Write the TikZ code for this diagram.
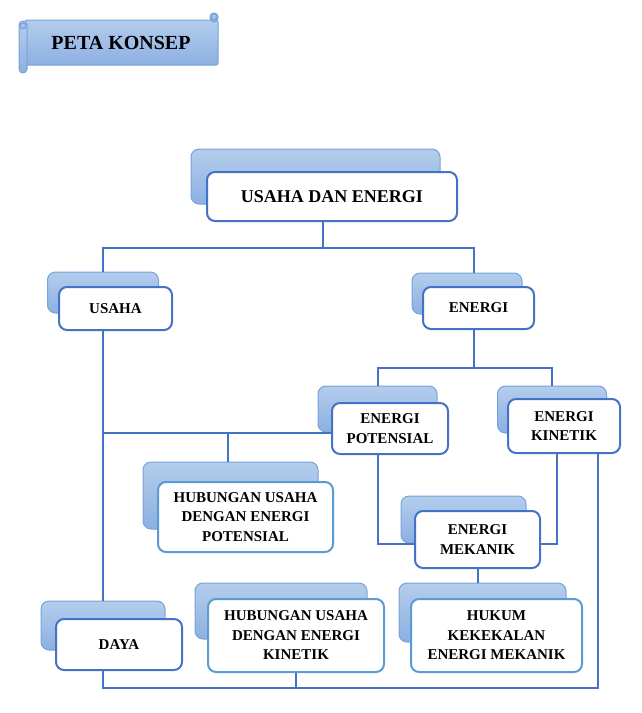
\documentclass[tikz,border=0pt]{standalone}
\usepackage{fontspec}
\setmainfont{Liberation Serif}
\usepackage{tikz}
\usetikzlibrary{positioning}
\definecolor{lineblue}{RGB}{68,114,196}
\definecolor{softblue}{RGB}{91,155,213}
\definecolor{backtop}{RGB}{180,205,236}
\definecolor{backbot}{RGB}{140,176,226}
\definecolor{backedge}{RGB}{118,163,218}
\begin{document}
\begin{tikzpicture}[x=1pt,y=-1pt,
    link/.style={draw=lineblue,line width=2pt},
    backbox/.style={rounded corners=8pt,draw=backedge,line width=1pt,top color=backtop,bottom color=backbot},
    frontbox/.style={rounded corners=8pt,draw=lineblue,line width=2pt,fill=white,align=center,
      font=\bfseries\fontsize{15}{19.5}\selectfont},
    softbox/.style={frontbox,draw=softblue},
    banner/.style={draw=backedge,line width=1pt,top color=backtop,bottom color=backbot}]
    \useasboundingbox (0,0) rectangle (642,713);
    % title banner
    \draw[banner,rounded corners=2pt] (25,20) rectangle (218,65);
    \draw[banner,rounded corners=4pt] (19,21) rectangle (27,73);
    \draw[banner] (23,26) circle (3);
    \draw[banner,rounded corners=4pt] (210,13) rectangle (218,22);
    \draw[banner] (214,17) circle (3);
    \node[font=\bfseries\fontsize{20}{24}\selectfont] (title) at (121,43) {PETA KONSEP};
    % boxes
    \node[backbox,minimum width=249pt,minimum height=55pt] (ueB) at (315.5,176.5) {};
    \node[frontbox,minimum width=250pt,minimum height=49pt,font=\bfseries\fontsize{18}{22}\selectfont] (ue) at (332,196.5) {USAHA DAN ENERGI};
    \node[backbox,minimum width=111pt,minimum height=41pt] (usB) at (103,292.5) {};
    \node[frontbox,minimum width=113pt,minimum height=43pt] (us) at (115.5,308.5) {USAHA};
    \node[backbox,minimum width=110pt,minimum height=41pt] (enB) at (467,293.5) {};
    \node[frontbox,minimum width=111pt,minimum height=42pt] (en) at (478.5,308) {ENERGI};
    \node[backbox,minimum width=119pt,minimum height=46pt] (epB) at (377.5,409) {};
    \node[frontbox,minimum width=116pt,minimum height=51pt] (ep) at (390,428.5) {ENERGI\\POTENSIAL};
    \node[backbox,minimum width=109pt,minimum height=47pt] (ekB) at (552,409.5) {};
    \node[frontbox,minimum width=112pt,minimum height=54pt] (ek) at (564,426) {ENERGI\\KINETIK};
    \node[backbox,minimum width=175pt,minimum height=67pt] (hpB) at (230.5,495.5) {};
    \node[softbox,minimum width=175pt,minimum height=70pt] (hp) at (245.5,517) {HUBUNGAN USAHA\\DENGAN ENERGI\\POTENSIAL};
    \node[backbox,minimum width=125pt,minimum height=47pt] (emB) at (463.5,519.5) {};
    \node[frontbox,minimum width=125pt,minimum height=57pt] (em) at (477.5,539.5) {ENERGI\\MEKANIK};
    \node[backbox,minimum width=124pt,minimum height=49pt] (dyB) at (103,625.5) {};
    \node[frontbox,minimum width=126pt,minimum height=51pt] (dy) at (119,644.5) {DAYA};
    \node[backbox,minimum width=172pt,minimum height=56pt] (hkB) at (281,611) {};
    \node[softbox,minimum width=176pt,minimum height=73pt] (hk) at (296,635.5) {HUBUNGAN USAHA\\DENGAN ENERGI\\KINETIK};
    \node[backbox,minimum width=167pt,minimum height=59pt] (hukB) at (482.5,612.5) {};
    \node[softbox,minimum width=171pt,minimum height=73pt] (huk) at (496.5,635.5) {HUKUM\\KEKEKALAN\\ENERGI MEKANIK};
    % connectors
    \coordinate (topbus) at (323,248);
    \coordinate (midbus) at (103,433);
    \coordinate (enbus) at (474,368);
    \coordinate (lowbus) at (103,688);
    \draw[link] ([xshift=-9pt]ue.south) -- (topbus);
    \draw[link] (usB.north) |- (topbus) -| ([xshift=7pt]enB.north);
    \draw[link] (us.south -| dyB.north) -- (dyB.north);
    \draw[link] (midbus) -- (midbus -| ep.west);
    \draw[link] ([xshift=-2.5pt]hpB.north |- midbus) -- ([xshift=-2.5pt]hpB.north);
    \draw[link] (en.south -| enbus) -- (enbus);
    \draw[link] (epB.north) |- (enbus) -| (ekB.north);
    \draw[link] ([xshift=-12pt]ep.south) |- ([yshift=-4.5pt]em.west);
    \draw[link] ([xshift=-7pt]ek.south) |- ([yshift=-4.5pt]em.east);
    \draw[link] (em.south) -- (em.south |- hukB.north);
    \draw[link] ([xshift=34pt]ek.south) |- (lowbus) -- (dy.south -| lowbus);
    \draw[link] (hk.south) -- (hk.south |- lowbus);
\end{tikzpicture}
\end{document}
